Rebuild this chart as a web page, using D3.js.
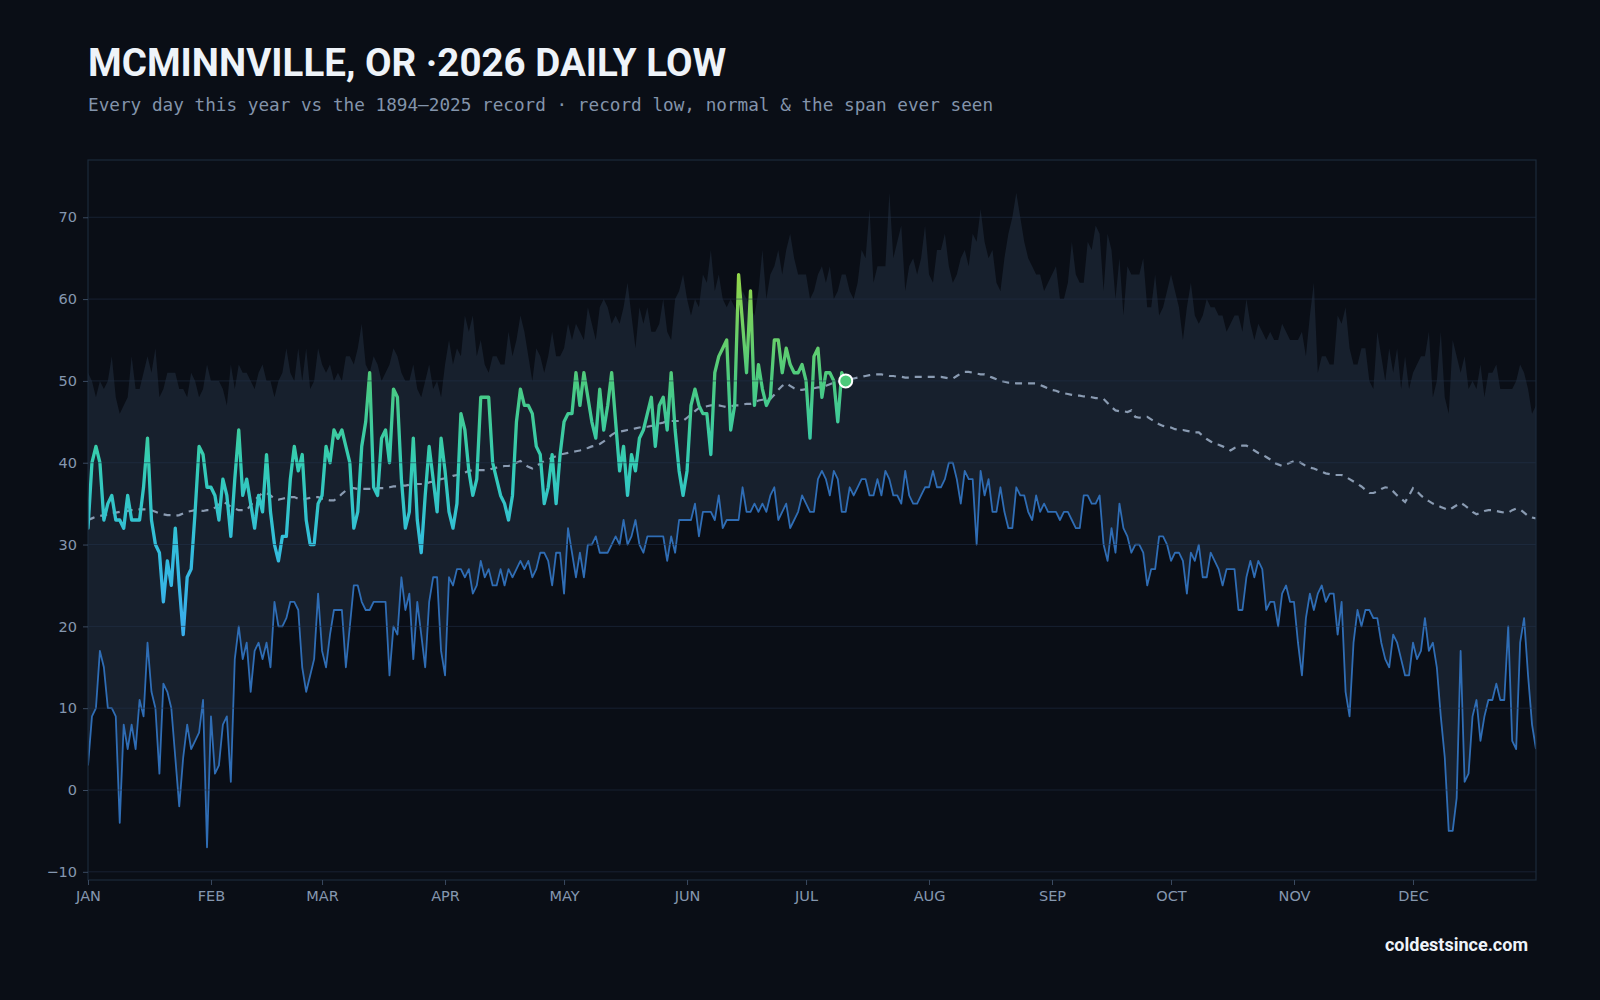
<!DOCTYPE html>
<html>
<head>
<meta charset="utf-8">
<script src="https://cdn.jsdelivr.net/npm/d3@7"></script>
<style>
  html, body { margin: 0; padding: 0; background: #0a0e16; }
  svg { display: block; }
</style>
</head>
<body>
<svg id="chart" width="1600" height="1000"></svg>
<script>
// ---------------- DATA ----------------
const titleText = "MCMINNVILLE, OR ·2026 DAILY LOW";
const subtitleText = "Every day this year vs the 1894–2025 record · record low, normal & the span ever seen";
const footerText = "coldestsince.com";

const monthStarts = [0, 31, 59, 90, 120, 151, 181, 212, 243, 273, 304, 334];
const monthLabels = ["JAN","FEB","MAR","APR","MAY","JUN","JUL","AUG","SEP","OCT","NOV","DEC"];
const yTicks = [-10, 0, 10, 20, 30, 40, 50, 60, 70];

// Record low for each day of year (°F)
const recordLow = [
  3, 9, 10, 17, 15, 10, 10, 9, -4, 8,
  5, 8, 5, 11, 9, 18, 12, 10, 2, 13,
  12, 10, 4, -2, 4, 8, 5, 6, 7, 11,
  -7, 9, 2, 3, 8, 9, 1, 16, 20, 16,
  18, 12, 17, 18, 16, 18, 15, 23, 20, 20,
  21, 23, 23, 22, 15, 12, 14, 16, 24, 17,
  15, 19, 22, 22, 22, 15, 20, 25, 25, 23,
  22, 22, 23, 23, 23, 23, 14, 20, 19, 26,
  22, 24, 16, 23, 19, 15, 23, 26, 26, 17,
  14, 26, 25, 27, 27, 26, 27, 24, 25, 28,
  26, 27, 25, 25, 27, 25, 27, 26, 27, 28,
  27, 28, 26, 27, 29, 29, 28, 25, 29, 29,
  24, 32, 29, 26, 29, 26, 30, 30, 31, 29,
  29, 29, 30, 31, 30, 33, 30, 31, 33, 30,
  29, 31, 31, 31, 31, 31, 28, 31, 29, 33,
  33, 33, 33, 35, 31, 34, 34, 34, 33, 36,
  32, 33, 33, 33, 33, 37, 34, 34, 35, 34,
  35, 34, 36, 37, 33, 34, 35, 32, 33, 34,
  36, 35, 34, 34, 38, 39, 38, 36, 39, 38,
  34, 34, 37, 36, 37, 38, 38, 36, 36, 38,
  36, 39, 38, 36, 36, 35, 39, 36, 35, 35,
  36, 37, 37, 39, 37, 37, 38, 40, 40, 38,
  35, 39, 38, 38, 30, 39, 36, 38, 34, 34,
  37, 34, 32, 32, 37, 36, 36, 34, 33, 36,
  34, 35, 34, 34, 34, 33, 34, 34, 33, 32,
  32, 36, 36, 35, 35, 36, 30, 28, 32, 29,
  35, 32, 31, 29, 30, 30, 29, 25, 27, 27,
  31, 31, 30, 28, 29, 29, 28, 24, 29, 28,
  30, 26, 26, 29, 28, 27, 25, 27, 27, 27,
  22, 22, 26, 28, 26, 28, 27, 22, 23, 23,
  20, 24, 25, 23, 23, 18, 14, 21, 24, 22,
  24, 25, 23, 24, 24, 19, 23, 12, 9, 18,
  22, 20, 22, 22, 21, 21, 18, 16, 15, 19,
  18, 16, 14, 14, 18, 16, 17, 21, 17, 18,
  15, 9, 4, -5, -5, -1, 17, 1, 2, 9,
  11, 6, 9, 11, 11, 13, 11, 11, 20, 6,
  5, 18, 21, 14, 8, 5
];

// Warmest daily low ever seen for each day (top of the span)
const recordHighLow = [
  51, 50, 48, 50, 49, 50, 53, 48, 46, 47,
  48, 53, 49, 49, 51, 53, 51, 54, 48, 49,
  51, 51, 51, 49, 49, 48, 51, 50, 48, 49,
  52, 50, 50, 50, 49, 47, 52, 49, 52, 51,
  51, 50, 49, 51, 52, 50, 50, 48, 50, 51,
  54, 51, 50, 54, 50, 54, 49, 50, 54, 52,
  51, 52, 50, 51, 50, 53, 53, 52, 54, 57,
  52, 51, 53, 52, 50, 51, 52, 54, 53, 51,
  50, 50, 52, 49, 48, 50, 52, 49, 50, 48,
  52, 55, 52, 54, 53, 58, 56, 58, 53, 55,
  52, 51, 53, 53, 52, 52, 56, 53, 55, 58,
  56, 53, 50, 54, 53, 51, 53, 56, 53, 53,
  54, 57, 55, 57, 56, 55, 59, 57, 55, 59,
  60, 59, 57, 58, 57, 59, 62, 58, 54, 59,
  57, 59, 56, 56, 57, 60, 56, 55, 60, 61,
  63, 60, 58, 60, 59, 63, 62, 66, 61, 63,
  60, 59, 60, 59, 58, 61, 60, 59, 58, 61,
  66, 60, 63, 64, 66, 63, 66, 68, 65, 63,
  63, 63, 60, 61, 63, 64, 62, 64, 60, 61,
  63, 63, 61, 60, 62, 66, 65, 71, 62, 64,
  64, 64, 73, 65, 67, 69, 61, 64, 65, 63,
  65, 69, 63, 62, 66, 66, 68, 64, 62, 63,
  65, 66, 64, 68, 67, 71, 67, 65, 66, 62,
  61, 65, 68, 70, 73, 70, 67, 65, 64, 63,
  63, 61, 62, 63, 64, 60, 60, 62, 67, 63,
  62, 62, 67, 66, 69, 68, 61, 68, 66, 60,
  65, 58, 64, 63, 63, 63, 65, 59, 59, 63,
  58, 59, 61, 63, 61, 59, 55, 59, 62, 58,
  57, 58, 60, 59, 59, 58, 58, 56, 57, 58,
  58, 56, 60, 57, 55, 57, 56, 55, 56, 55,
  55, 57, 56, 55, 55, 55, 56, 53, 58, 62,
  51, 53, 53, 52, 52, 58, 57, 59, 54, 52,
  52, 54, 54, 50, 49, 56, 53, 50, 54, 51,
  54, 49, 53, 49, 51, 52, 53, 53, 56, 48,
  50, 56, 48, 46, 55, 53, 51, 53, 49, 50,
  49, 52, 48, 51, 51, 52, 49, 49, 49, 49,
  50, 52, 51, 49, 46, 47
];

// Normal daily low (1894–2025)
const normalLow = [
  33.0, 33.2, 33.4, 33.5, 33.6, 33.7, 33.9, 33.9, 34.0, 34.0,
  34.1, 34.2, 34.2, 34.3, 34.3, 34.3, 34.2, 34.0, 33.8, 33.7,
  33.6, 33.6, 33.5, 33.6, 33.8, 34.0, 34.1, 34.2, 34.2, 34.1,
  34.2, 34.2, 34.5, 34.9, 35.2, 35.0, 34.6, 34.4, 34.2, 34.2,
  34.2, 34.8, 35.4, 35.9, 36.3, 36.3, 36.0, 35.6, 35.5, 35.6,
  35.7, 35.8, 35.8, 35.6, 35.5, 35.6, 35.7, 35.8, 35.8, 35.6,
  35.5, 35.4, 35.4, 35.7, 36.2, 36.6, 36.9, 36.9, 36.8, 36.8,
  36.8, 36.8, 36.8, 36.9, 36.9, 36.9, 37.0, 37.1, 37.1, 37.2,
  37.2, 37.3, 37.3, 37.4, 37.4, 37.4, 37.6, 37.7, 37.9, 38.0,
  38.1, 38.2, 38.4, 38.5, 38.7, 38.8, 39.0, 39.1, 39.1, 39.1,
  39.1, 39.1, 39.3, 39.4, 39.5, 39.6, 39.6, 39.8, 40.0, 40.2,
  39.8, 39.5, 39.3, 39.6, 39.9, 40.2, 40.4, 40.6, 40.8, 41.0,
  41.1, 41.2, 41.3, 41.4, 41.5, 41.7, 41.8, 42.0, 42.1, 42.3,
  42.6, 43.0, 43.4, 43.7, 43.8, 43.9, 44.0, 44.1, 44.2, 44.3,
  44.4, 44.4, 44.5, 44.6, 44.8, 44.9, 45.1, 45.1, 45.1, 45.1,
  45.1, 45.5, 45.9, 46.3, 46.7, 46.8, 46.9, 47.0, 47.0, 47.0,
  46.9, 46.8, 46.9, 47.0, 47.0, 47.1, 47.2, 47.2, 47.4, 47.6,
  47.7, 47.8, 47.8, 48.3, 48.9, 49.4, 49.7, 49.4, 49.1, 48.9,
  48.9, 49.0, 49.1, 49.1, 49.2, 49.2, 49.4, 49.6, 49.8, 49.9,
  50.0, 50.1, 50.2, 50.3, 50.4, 50.5, 50.6, 50.7, 50.8, 50.8,
  50.8, 50.7, 50.6, 50.6, 50.5, 50.5, 50.4, 50.4, 50.5, 50.5,
  50.5, 50.5, 50.5, 50.5, 50.5, 50.5, 50.4, 50.3, 50.3, 50.6,
  50.9, 51.1, 51.1, 51.0, 50.9, 50.8, 50.8, 50.6, 50.4, 50.2,
  50.0, 49.9, 49.8, 49.8, 49.7, 49.7, 49.7, 49.7, 49.7, 49.7,
  49.5, 49.3, 49.1, 48.9, 48.8, 48.6, 48.5, 48.4, 48.3, 48.2,
  48.2, 48.1, 48.1, 48.0, 47.9, 47.9, 47.8, 47.3, 46.8, 46.4,
  46.3, 46.3, 46.2, 46.4, 45.6, 45.5, 45.6, 45.6, 45.3, 45.0,
  44.7, 44.5, 44.4, 44.3, 44.1, 44.0, 44.0, 43.9, 43.8, 43.7,
  43.7, 43.3, 42.9, 42.6, 42.3, 42.2, 42.0, 41.8, 41.5, 41.8,
  42.0, 42.1, 42.1, 41.8, 41.5, 41.2, 41.0, 40.7, 40.4, 40.0,
  39.8, 39.6, 39.8, 40.0, 40.2, 40.2, 39.9, 39.6, 39.4, 39.3,
  39.1, 38.9, 38.7, 38.6, 38.5, 38.5, 38.5, 38.3, 38.0, 37.7,
  37.4, 37.1, 36.7, 36.3, 36.3, 36.5, 36.8, 37.0, 36.9, 36.5,
  36.0, 35.6, 35.2, 36.0, 36.9, 36.5, 36.0, 35.6, 35.3, 35.0,
  34.8, 34.6, 34.4, 34.2, 34.5, 34.8, 35.1, 34.8, 34.4, 34.0,
  33.7, 33.9, 34.1, 34.2, 34.2, 34.1, 34.0, 33.9, 33.9, 34.2,
  34.4, 34.3, 33.9, 33.5, 33.3, 33.2
];

// 2026 observed daily lows (through Jul 11)
const observed2026 = [
  32, 40, 42, 40, 33, 35, 36, 33, 33, 32,
  36, 33, 33, 33, 37, 43, 33, 30, 29, 23,
  28, 25, 32, 25, 19, 26, 27, 34, 42, 41,
  37, 37, 36, 33, 38, 36, 31, 38, 44, 36,
  38, 35, 32, 36, 34, 41, 34, 30, 28, 31,
  31, 38, 42, 39, 41, 33, 30, 30, 35, 36,
  42, 40, 44, 43, 44, 42, 40, 32, 34, 42,
  45, 51, 37, 36, 43, 44, 40, 49, 48, 38,
  32, 34, 43, 33, 29, 36, 42, 38, 34, 43,
  39, 34, 32, 35, 46, 44, 39, 36, 38, 48,
  48, 48, 40, 38, 36, 35, 33, 36, 45, 49,
  47, 47, 46, 42, 41, 35, 37, 41, 35, 41,
  45, 46, 46, 51, 47, 51, 48, 45, 43, 49,
  44, 47, 51, 45, 39, 42, 36, 41, 39, 43,
  44, 46, 48, 42, 47, 48, 44, 51, 44, 39,
  36, 39, 47, 49, 47, 46, 46, 41, 51, 53,
  54, 55, 44, 47, 63, 57, 51, 61, 47, 52,
  49, 47, 48, 55, 55, 51, 54, 52, 51, 51,
  52, 50, 43, 53, 54, 48, 51, 51, 50, 45,
  51, 50
];

// colour ramp of the 2026 line by temperature
const rampTemps = [20, 30, 40, 50, 63];
const rampColors = ["#3aaeec", "#33bedb", "#34ccb4", "#4bca80", "#93d64a"];

// ---------------- LAYOUT ----------------
const W = 1600, H = 1000;
const plot = { left: 88, right: 1536, top: 160, bottom: 880 };
const svg = d3.select("#chart");

svg.append("rect").attr("width", W).attr("height", H).attr("fill", "#0a0e16");

const x = d3.scaleLinear().domain([0, 365]).range([plot.left, plot.right]);
const y = d3.scaleLinear().domain([-11, 77]).range([plot.bottom, plot.top]);

const days = d3.range(recordLow.length);

// clip
svg.append("defs").append("clipPath").attr("id", "clip")
  .append("rect").attr("x", plot.left).attr("y", plot.top)
  .attr("width", plot.right - plot.left).attr("height", plot.bottom - plot.top);

// gradient for the 2026 line
const grad = svg.select("defs").append("linearGradient")
  .attr("id", "obsGrad").attr("gradientUnits", "userSpaceOnUse")
  .attr("x1", 0).attr("x2", 0)
  .attr("y1", y(rampTemps[0])).attr("y2", y(rampTemps[rampTemps.length - 1]));
rampTemps.forEach((t, i) => {
  grad.append("stop")
    .attr("offset", (t - rampTemps[0]) / (rampTemps[rampTemps.length - 1] - rampTemps[0]))
    .attr("stop-color", rampColors[i]);
});

const g = svg.append("g").attr("clip-path", "url(#clip)");

// span band (record low → warmest low)
g.append("path")
  .datum(days)
  .attr("fill", "#17202d")
  .attr("d", d3.area()
    .x(i => x(i))
    .y0(i => y(recordLow[i]))
    .y1(i => y(recordHighLow[i])));

// gridlines
svg.append("g").selectAll("line").data(yTicks).join("line")
  .attr("x1", plot.left).attr("x2", plot.right)
  .attr("y1", d => y(d)).attr("y2", d => y(d))
  .attr("stroke", "#22324a").attr("stroke-opacity", 0.55).attr("stroke-width", 1);

// record low line
g.append("path")
  .datum(days)
  .attr("fill", "none")
  .attr("stroke", "#2f6db5")
  .attr("stroke-width", 1.8)
  .attr("stroke-linejoin", "round")
  .attr("d", d3.line().x(i => x(i)).y(i => y(recordLow[i])));

// normal dashed
g.append("path")
  .datum(d3.range(normalLow.length))
  .attr("fill", "none")
  .attr("stroke", "#8a9bb2")
  .attr("stroke-width", 2.2)
  .attr("stroke-dasharray", "7,6")
  .attr("d", d3.line().x(i => x(i)).y(i => y(normalLow[i])));

// 2026 observed
g.append("path")
  .datum(d3.range(observed2026.length))
  .attr("fill", "none")
  .attr("stroke", "url(#obsGrad)")
  .attr("stroke-width", 3.3)
  .attr("stroke-linejoin", "round")
  .attr("stroke-linecap", "round")
  .attr("d", d3.line().x(i => x(i)).y(i => y(observed2026[i])));

// latest dot
const last = observed2026.length - 1;
svg.append("circle")
  .attr("cx", x(last)).attr("cy", y(observed2026[last]))
  .attr("r", 6.5)
  .attr("fill", "#4cc97a")
  .attr("stroke", "#ffffff").attr("stroke-width", 2);

// frame
svg.append("rect")
  .attr("x", plot.left).attr("y", plot.top)
  .attr("width", plot.right - plot.left).attr("height", plot.bottom - plot.top)
  .attr("fill", "none").attr("stroke", "#1c2a3b").attr("stroke-width", 1.2);

// axes
const tickColor = "#8597af";
const yAxis = svg.append("g").attr("transform", `translate(${plot.left},0)`)
  .call(d3.axisLeft(y).tickValues(yTicks).tickSize(5).tickPadding(6));
yAxis.select(".domain").remove();
yAxis.selectAll(".tick line").attr("stroke", "#3a4a60");
yAxis.selectAll(".tick text").attr("fill", tickColor)
  .style("font-family", "'DejaVu Sans', sans-serif").style("font-size", "14.5px");

const xAxis = svg.append("g").attr("transform", `translate(0,${plot.bottom})`)
  .call(d3.axisBottom(x).tickValues(monthStarts)
    .tickFormat((d, i) => monthLabels[i]).tickSize(5).tickPadding(6));
xAxis.select(".domain").remove();
xAxis.selectAll(".tick line").attr("stroke", "#3a4a60");
xAxis.selectAll(".tick text").attr("fill", tickColor)
  .style("font-family", "'DejaVu Sans', sans-serif").style("font-size", "14.5px");

// titles
svg.append("text")
  .attr("x", 88).attr("y", 76)
  .attr("fill", "#eef3f9")
  .style("font-family", "Roboto, 'Noto Sans', sans-serif")
  .style("font-weight", 700)
  .style("font-size", "38.5px")
  .text(titleText);

svg.append("text")
  .attr("x", 88).attr("y", 111)
  .attr("fill", "#8394ab")
  .style("font-family", "'DejaVu Sans Mono', monospace")
  .style("font-size", "17.7px")
  .text(subtitleText);

svg.append("text")
  .attr("x", 1528).attr("y", 951)
  .attr("text-anchor", "end")
  .attr("fill", "#eef3f9")
  .style("font-family", "Roboto, 'Noto Sans', sans-serif")
  .style("font-weight", 700)
  .style("font-size", "18px")
  .text(footerText);
</script>
</body>
</html>
